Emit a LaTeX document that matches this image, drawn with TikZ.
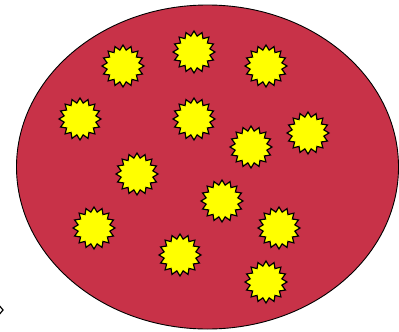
\documentclass[tikz,border=0pt]{standalone}
\usetikzlibrary{shapes.geometric}
\definecolor{cellred}{HTML}{C83248}
\definecolor{burst}{HTML}{FFFF00}
\begin{document}
\begin{tikzpicture}[x=1pt,y=-1pt,
  burststar/.style={star, star points=16, star point ratio=1.3, minimum size=42pt, inner sep=0pt,
    draw=black, line width=1.2pt, fill=burst}]
\useasboundingbox (0,0) rectangle (399,332);
\clip (0,0) rectangle (399,332);
\fill[white] (0,0) rectangle (399,332);
\draw[fill=cellred, line width=0.9pt] (207.5,167) ellipse [x radius=191, y radius=162];
\foreach \n/\x/\y in {a/123/66, b/194/52, c/266/66, d/80/119, e/194/119, f/251/147, g/308/133,
  h/137/174, i/222/201, j/94/228, k/279/228, l/180/255, m/266/282}
  \node[burststar] (s\n) at (\x,\y) {};
\draw[line width=1.2pt] (-2,304) -- (3,310) -- (-2,316);
\end{tikzpicture}
\end{document}
